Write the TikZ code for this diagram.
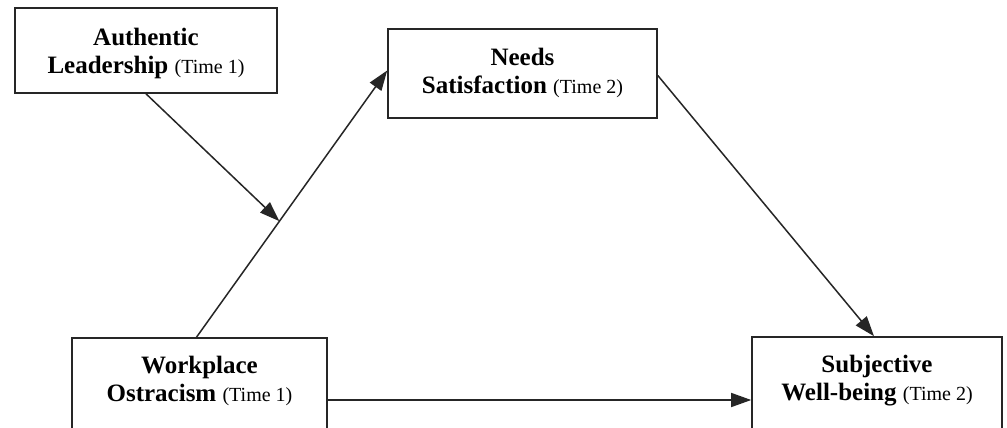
\documentclass[tikz,border=0pt]{standalone}
\usepackage{fontspec}
\setmainfont{Liberation Serif}
\usetikzlibrary{arrows.meta,calc}
\tikzset{
  boxnode/.style={draw=black!85, line width=1.6pt, inner sep=0pt, fill=white},
  txtnode/.style={align=center, inner sep=0pt, font=\fontsize{25}{28}\selectfont\bfseries},
  conn/.style={draw=black!85, line width=1.5pt, -{Triangle[length=20pt,width=14pt]}},
}
\newcommand{\tm}[1]{{\fontsize{20}{28}\selectfont\mdseries (Time #1)}}
\begin{document}
\begin{tikzpicture}[x=1pt,y=-1pt]
\useasboundingbox (0,0) rectangle (1007,428);
\clip (0,0) rectangle (1007,428);
\fill[white] (0,0) rectangle (1007,428);
\node[boxnode, minimum width=262pt, minimum height=85pt] (A) at (146,50.5) {};
\node[boxnode, minimum width=269pt, minimum height=89pt] (N) at (522.5,73.5) {};
\node[boxnode, minimum width=255pt, minimum height=124pt] (W) at (199.5,400) {};
\node[boxnode, minimum width=250pt, minimum height=126pt] (S) at (877,400) {};
\node[txtnode] (At) at (146,53) {Authentic\\Leadership \tm{1}};
\node[txtnode] (Nt) at (522.5,73) {Needs\\Satisfaction \tm{2}};
\node[txtnode] (Wt) at (199.5,381) {Workplace\\Ostracism \tm{1}};
\node[txtnode] (St) at (877,381) {Subjective\\Well-being \tm{2}};
\coordinate (ws) at ($(W.north)+(-3,0)$);
\coordinate (ne) at ($(N.west)+(0,-3)$);
\coordinate (mid) at ($(ws)!0.435!(ne)$);
\draw[conn] (ws) -- (ne);
\draw[conn] (A.south) -- (mid);
\draw[conn] ($(N.east)+(0,2)$) -- ($(S.north)+(-3,0)$);
\draw[conn] (W.east) -- (S.west);
\end{tikzpicture}
\end{document}
